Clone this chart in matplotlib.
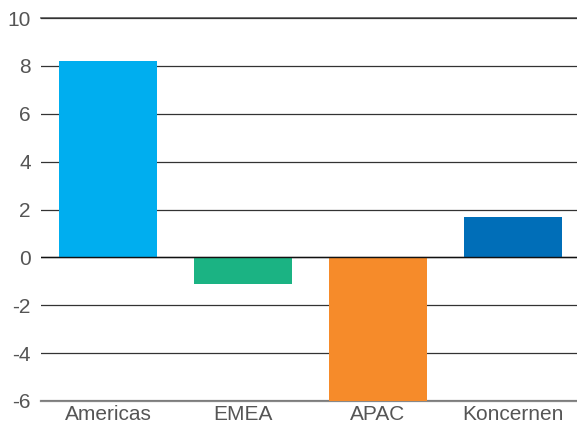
import matplotlib
matplotlib.use("Agg")
import matplotlib.pyplot as plt

categories = ["Americas", "EMEA", "APAC", "Koncernen"]
values = [8.2, -1.1, -6.0, 1.7]
colors = ["#00AEEF", "#1BB383", "#F68B2A", "#006EB8"]
yticks = [-6, -4, -2, 0, 2, 4, 6, 8, 10]

plt.rcParams["font.family"] = ["Liberation Sans", "DejaVu Sans"]
fig = plt.figure(figsize=(5.77, 4.28), dpi=100)
ax = fig.add_axes([40.5/577, 27/428, 540/577, 383/428])
ax.bar(range(len(categories)), values, width=0.726, color=colors, zorder=2)
ax.set_xlim(-0.5, 3.5)
ax.set_ylim(-6, 10)
ax.set_yticks(yticks)
ax.set_yticklabels([str(t) for t in yticks])
ax.set_xticks(range(len(categories)))
ax.set_xticklabels(categories)
ax.yaxis.grid(True, color="#333333", linewidth=0.9, zorder=1)
ax.axhline(0, color="#111111", linewidth=1.0, zorder=3)
ax.axhline(yticks[0], color="#888888", linewidth=1.6, zorder=1, clip_on=False)
ax.axhline(yticks[-1], color="#555555", linewidth=1.2, zorder=1, clip_on=False)
for s in ax.spines.values():
    s.set_visible(False)
ax.tick_params(axis="both", length=0, labelsize=15, labelcolor="#555555")
ax.tick_params(axis="y", pad=7)
ax.tick_params(axis="x", pad=3)
fig.savefig("out.png", dpi=100)
